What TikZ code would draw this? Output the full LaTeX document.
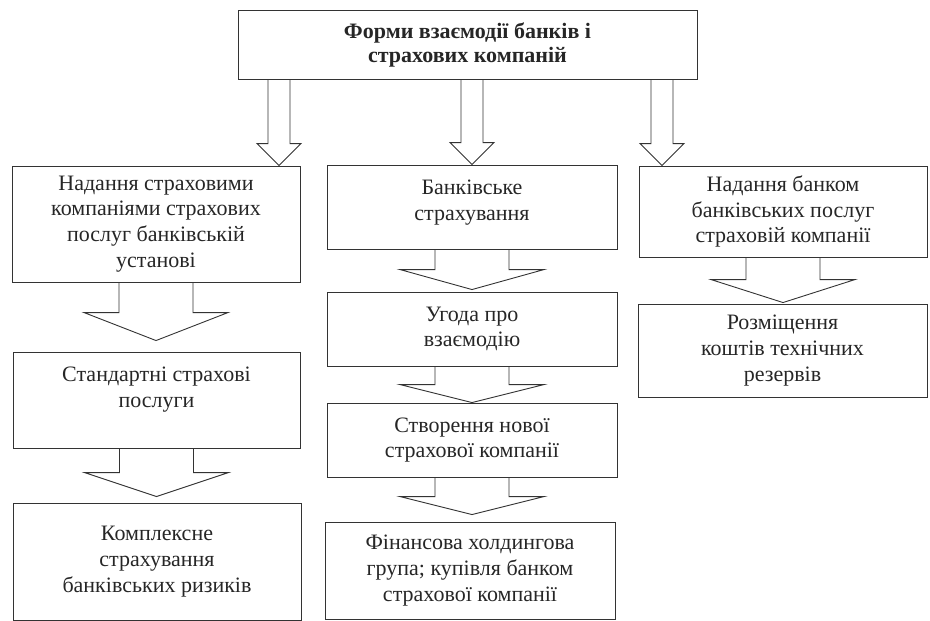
\documentclass[tikz,border=0pt]{standalone}
\usepackage{fontspec}
\setmainfont{Liberation Serif}
\usepackage{tikz}
\usetikzlibrary{calc, positioning}
\tikzset{
	formbox/.style={draw=black!80, line width=0.9pt, align=center, inner sep=2pt,
		font=\fontsize{22}{25.7}\selectfont, text=black!85}
}
\tikzset{
	titlebox/.style={formbox, font=\fontsize{22}{24}\selectfont\bfseries}
}
\tikzset{
	arrowline/.style={draw=black!80, line width=0.9pt, line join=miter}
}
% wide block arrow: from, to, gap above target, head length
\newcommand{\fatarrow}[4]{%
	\draw[arrowline] let \p1=(#1.south), \p2=(#2.north) in
	(\x1-37pt,\y1) -- (\x1-37pt,\y2+#3+#4) -- (\x1-72pt,\y2+#3+#4) -- (\x1,\y2+#3)
	-- (\x1+72pt,\y2+#3+#4) -- (\x1+37pt,\y2+#3+#4) -- (\x1+37pt,\y1);
}
% narrow block arrow: from, to, x position
\newcommand{\thinarrow}[3]{%
	\draw[arrowline] let \p1=(#3,0), \p2=(#1.south), \p3=(#2.north) in
	(\x1-11pt,\y2) -- (\x1-11pt,\y3+22pt) -- (\x1-22pt,\y3+22pt) -- (\x1,\y3)
	-- (\x1+22pt,\y3+22pt) -- (\x1+11pt,\y3+22pt) -- (\x1+11pt,\y2);
}
\begin{document}
\begin{tikzpicture}[x=1pt, y=-1pt]

	\useasboundingbox (0,0) rectangle (930,621);

	\node[titlebox, minimum width=459, minimum height=69] (forms) at (467.5,44.5)
		{Форми взаємодії банків і\\страхових компаній};

	% left column
	\node[formbox, minimum width=288, minimum height=116] (insA) at (156,224)
		{Надання страховими\\компаніями страхових\\послуг банківській\\установі};
	\node[formbox, minimum width=287, minimum height=96] (insB) at (156.5,400)
		{Стандартні страхові\\послуги\\\mbox{}};
	\node[formbox, minimum width=288, minimum height=117] (insC) at (157,561.5)
		{Комплексне\\страхування\\банківських ризиків};

	% middle column
	\node[formbox, minimum width=290, minimum height=84] (bnkA) at (472,207)
		{Банківське\\страхування\\[-12pt]\mbox{}};
	\node[formbox, minimum width=290, minimum height=74] (bnkB) at (472,329)
		{Угода про\\взаємодію};
	\node[formbox, minimum width=290, minimum height=74] (bnkC) at (472,440)
		{Створення нової\\страхової компанії};
	\node[formbox, minimum width=290, minimum height=97] (bnkD) at (470,570.5)
		{Фінансова холдингова\\група; купівля банком\\страхової компанії};

	% right column
	\node[formbox, minimum width=288, minimum height=91] (srvA) at (783,211.5)
		{Надання банком\\банківських послуг\\страховій компанії};
	\node[formbox, minimum width=289, minimum height=93] (srvB) at (782.5,350.5)
		{Розміщення\\коштів технічних\\резервів};

	\thinarrow{forms}{insA}{279}
	\thinarrow{forms}{bnkA}{472}
	\thinarrow{forms}{srvA}{662}

	\fatarrow{insA}{insB}{11pt}{28pt}
	\fatarrow{insB}{insC}{6pt}{24pt}
	\fatarrow{bnkA}{bnkB}{2pt}{20pt}
	\fatarrow{bnkB}{bnkC}{0pt}{18pt}
	\fatarrow{bnkC}{bnkD}{7pt}{18pt}
	\fatarrow{srvA}{srvB}{1pt}{23pt}

\end{tikzpicture}
\end{document}
